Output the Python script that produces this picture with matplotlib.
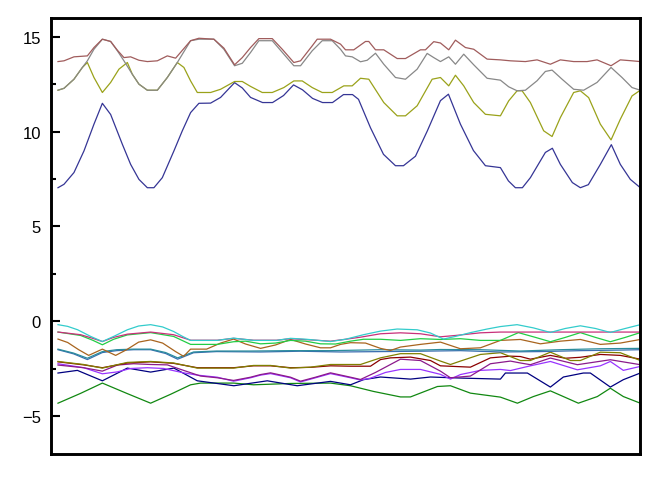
import numpy as np
import matplotlib
matplotlib.use("Agg")
import matplotlib.pyplot as plt
from matplotlib.ticker import MultipleLocator

# band energies; k is the path coordinate (arbitrary units)
blue_k = [57.3, 63.3, 73.3, 83.3, 93.3, 101.7, 110, 121.7, 130, 138.3, 146.7, 153.3, 161.7, 173.3, 181.7, 190, 198.3, 210, 220, 234,
          241.7, 250, 262, 272, 283, 293, 302, 312, 322, 332, 343, 352, 358, 370, 383, 395, 403, 415, 427, 440,
          448, 460, 473, 485, 500, 508, 515, 522, 530, 545, 552, 560, 572, 580, 588, 600, 611, 620, 630, 640]
blue_e = [7.04, 7.22, 7.84, 8.98, 10.39, 11.49, 10.9, 9.33, 8.27, 7.48, 7.04, 7.04, 7.57, 8.98, 10.04, 11.0, 11.49, 11.5, 11.8, 12.58,
          12.3, 11.8, 11.53, 11.53, 11.9, 12.46, 12.2, 11.75, 11.53, 11.53, 11.95, 11.95, 11.7, 10.2, 8.8, 8.2, 8.2, 8.7, 10.05, 11.63,
          11.97, 10.39, 9.0, 8.2, 8.1, 7.4, 7.04, 7.04, 7.57, 8.9, 9.12, 8.27, 7.31, 7.04, 7.2, 8.27, 9.31, 8.27, 7.48, 7.04]

olive_k = [57.3, 63.3, 73.3, 81.7, 86.7, 93.3, 101.7, 110, 118.3, 126.7, 131.7, 138.3, 146.7, 156.7, 166.7, 176.7, 183.3, 190, 196.7, 210,
           220, 234, 241.7, 250, 261.7, 271.7, 283.3, 293.3, 301.7, 311.7, 321.7, 331.7, 343.3, 351.7, 360, 368.3, 383.3, 396.7, 405, 416.7,
           431.7, 440, 448.3, 455, 463.3, 473.3, 485, 500, 508.3, 516.7, 521.7, 530, 543.3, 551.7, 560, 573.3, 580, 588.3, 600, 610.7,
           620, 631.7, 640]
olive_e = [12.18, 12.28, 12.76, 13.38, 13.64, 12.85, 12.06, 12.59, 13.29, 13.64, 13.02, 12.5, 12.18, 12.18, 12.85, 13.64, 13.38, 12.67, 12.06, 12.06,
           12.23, 12.64, 12.64, 12.38, 12.06, 12.06, 12.32, 12.67, 12.67, 12.32, 12.06, 12.06, 12.41, 12.41, 12.81, 12.76, 11.53, 10.83, 10.83, 11.36,
           12.76, 12.85, 12.41, 12.97, 12.41, 11.53, 10.91, 10.83, 11.62, 12.15, 12.15, 11.53, 10.04, 9.74, 10.74, 12.06, 12.15, 11.79, 10.39, 9.56,
           10.65, 11.88, 12.18]

gray_k = [57.3, 63.3, 73.3, 81.7, 86.7, 93.3, 101.7, 110, 116.7, 123.3, 131.7, 138.3, 146.7, 156.7, 166.7, 176.7, 190, 198.3, 213.3, 223.3,
          234, 241.7, 250, 258.3, 271.7, 283.3, 293.3, 300, 311.7, 321.7, 331.7, 340, 345, 351.7, 360, 366.7, 375, 383.3, 395, 405,
          416.7, 426.7, 433.3, 440, 448.3, 455, 463.3, 473.3, 486.7, 500, 508.3, 516.7, 525, 536.7, 545, 551.7, 561.7, 573.3, 583.3, 596.7,
          610.7, 621.7, 631.7, 640]
gray_e = [12.18, 12.28, 12.76, 13.38, 13.73, 14.34, 14.87, 14.75, 14.26, 13.73, 13.02, 12.5, 12.18, 12.18, 12.85, 13.64, 14.79, 14.87, 14.87, 14.34,
          13.47, 13.6, 14.17, 14.79, 14.79, 14.08, 13.47, 13.47, 14.26, 14.79, 14.79, 14.34, 13.99, 13.94, 13.68, 13.76, 14.13, 13.55, 12.85, 12.76,
          13.29, 14.12, 13.9, 13.69, 13.94, 13.55, 14.08, 13.52, 12.81, 12.71, 12.36, 12.15, 12.18, 12.68, 13.17, 13.24, 12.76, 12.23, 12.18, 12.59,
          13.38, 12.85, 12.32, 12.18]

brown_k = [57.3, 63.3, 73.3, 86.7, 93.3, 101.7, 110, 116.7, 123.3, 130, 138.3, 146.7, 156.7, 166.7, 175, 190, 198.3, 213.3, 223.3, 234,
           241.7, 250, 258.3, 271.7, 281.7, 293.3, 300, 311.7, 316.7, 330, 340, 345, 353.3, 365, 368.3, 375, 383.3, 396.7, 405, 420,
           425, 433.3, 440, 448.3, 455, 465, 473.3, 486.7, 500, 510, 525, 536.7, 550, 560, 573.3, 586.7, 596.7, 610.7, 620, 631.7, 640]
brown_e = [13.69, 13.73, 13.94, 13.99, 14.43, 14.87, 14.75, 14.29, 13.9, 13.94, 13.76, 13.69, 13.73, 13.99, 13.87, 14.79, 14.92, 14.87, 14.4, 13.52,
           13.9, 14.43, 14.9, 14.9, 14.34, 13.64, 13.73, 14.52, 14.87, 14.87, 14.61, 14.31, 14.31, 14.75, 14.75, 14.31, 14.31, 13.85, 13.85, 14.31,
           14.31, 14.74, 14.67, 14.31, 14.82, 14.43, 14.34, 13.82, 13.78, 13.73, 13.69, 13.78, 13.55, 13.78, 13.69, 13.69, 13.78, 13.47, 13.78, 13.73, 13.69]

cyan_k = [57.3, 67, 77, 90, 101.7, 113, 126.7, 138, 150, 162, 173, 182, 190, 216.7, 233, 253, 276, 290, 306, 330,
          345, 363, 380, 396.7, 416.7, 430, 443, 455, 470, 486.7, 500, 516.7, 533, 550, 565, 580, 595, 610, 625, 640]
cyan_e = [-0.18, -0.27, -0.45, -0.8, -1.07, -0.8, -0.45, -0.25, -0.18, -0.3, -0.54, -0.8, -1.01, -1.01, -0.89, -1.01, -1.01, -0.9, -0.95, -1.07,
          -0.95, -0.71, -0.52, -0.41, -0.45, -0.62, -0.94, -0.8, -0.6, -0.41, -0.28, -0.18, -0.35, -0.59, -0.38, -0.24, -0.38, -0.59, -0.38, -0.18]

crimson_k = [57.3, 80, 92, 101.7, 113, 126.7, 150, 173, 190, 216.7, 233, 253, 276, 290, 306, 330, 345, 360, 380, 400,
             420, 440, 455, 480, 500, 640]
crimson_e = [-0.57, -0.71, -0.9, -1.07, -0.85, -0.68, -0.57, -0.71, -1.0, -1.0, -0.9, -1.0, -1.0, -0.92, -0.97, -1.05, -0.95, -0.84, -0.66, -0.61,
             -0.66, -0.82, -0.75, -0.61, -0.57, -0.57]

green_k = [57.3, 80, 92, 101.7, 113, 126.7, 150, 173, 190, 216.7, 233, 245, 260, 275, 290, 305, 320, 335, 350, 363,
           380, 400, 420, 440, 460, 480, 500, 518, 535, 550, 565, 580, 595, 610, 625, 640]
green_e = [-0.57, -0.75, -1.0, -1.24, -0.95, -0.72, -0.6, -0.8, -1.22, -1.22, -1.08, -1.05, -1.19, -1.15, -1.01, -1.05, -1.19, -1.2, -1.05, -0.95,
           -0.95, -1.01, -0.92, -0.96, -0.92, -1.01, -1.01, -0.6, -0.85, -1.08, -0.85, -0.6, -0.85, -1.08, -0.85, -0.6]

orange_k = [57.3, 67, 78, 88, 101.7, 115, 126, 138, 150, 162, 175, 183, 190, 206, 220, 233, 245, 260, 275, 290,
            305, 320, 330, 340, 350, 365, 380, 390, 400, 420, 440, 460, 480, 500, 520, 540, 560, 580, 600, 620, 640]
orange_e = [-0.94, -1.12, -1.5, -1.8, -1.47, -1.8, -1.5, -1.1, -0.98, -1.15, -1.6, -1.85, -1.47, -1.47, -1.15, -0.94, -1.2, -1.43, -1.25, -0.96,
            -1.2, -1.4, -1.4, -1.22, -1.13, -1.15, -1.43, -1.54, -1.36, -1.22, -1.1, -1.45, -1.40, -1.01, -0.96, -1.19, -1.05, -0.96, -1.22, -1.15, -0.96]

teal_k = [57.3, 73, 86.7, 101.7, 116, 133, 150, 165, 177, 193, 216, 250, 290, 330, 380, 420, 440, 480, 520, 560, 600, 640]
teal_e = [-1.47, -1.68, -1.95, -1.6, -1.5, -1.47, -1.47, -1.65, -1.93, -1.62, -1.57, -1.57, -1.55, -1.55, -1.5, -1.52, -1.49, -1.5, -1.57, -1.5,
          -1.45, -1.43]

steel_k = [57.3, 73, 86.7, 101.7, 116, 133, 150, 165, 177, 193, 216, 260, 300, 340, 380, 420, 460, 500, 540, 580, 620, 640]
steel_e = [-1.5, -1.72, -2.02, -1.65, -1.55, -1.5, -1.5, -1.7, -2.0, -1.66, -1.6, -1.62, -1.58, -1.62, -1.6, -1.58, -1.55, -1.62, -1.6, -1.55,
           -1.52, -1.5]

olive2_k = [57.3, 83, 101.7, 126.7, 150, 173, 196.7, 233, 253, 270, 290, 310, 330, 350, 360, 380, 400, 420, 440, 450,
            460, 480, 500, 520, 530, 550, 570, 580, 600, 620, 640]
olive2_e = [-2.12, -2.28, -2.47, -2.17, -2.12, -2.2, -2.47, -2.47, -2.33, -2.33, -2.47, -2.42, -2.28, -2.28, -2.28, -1.93, -1.71, -1.71, -2.1, -2.28,
            -2.1, -1.75, -1.66, -2.07, -2.07, -1.63, -2.07, -2.07, -1.63, -1.66, -2.07]

darkred_k = [57.3, 83, 101.7, 126.7, 150, 173, 196.7, 233, 253, 270, 290, 310, 330, 350, 370, 380, 390, 410, 430, 440,
             470, 490, 510, 520, 530, 550, 565, 580, 600, 620, 640]
darkred_e = [-2.14, -2.3, -2.45, -2.2, -2.14, -2.22, -2.45, -2.45, -2.35, -2.35, -2.45, -2.43, -2.35, -2.37, -2.37, -2.02, -1.93, -1.89, -2.07, -2.35,
             -2.42, -1.93, -1.84, -1.86, -2.0, -1.8, -1.95, -1.9, -1.75, -1.8, -2.0]

purple_k = [57.3, 83, 101.7, 116.7, 133, 150, 166.7, 183, 200, 216.7, 233, 250, 260, 270, 290, 300, 315, 330, 350, 360,
            375, 390, 400, 420, 440, 450, 470, 490, 510, 520, 530, 550, 577, 610, 640]
purple_e = [-2.31, -2.45, -2.63, -2.31, -2.24, -2.28, -2.3, -2.59, -2.89, -2.98, -3.12, -2.95, -2.81, -2.72, -2.95, -3.16, -2.95, -2.72, -2.95, -3.07,
            -2.7, -2.28, -2.0, -2.07, -2.63, -2.98, -2.89, -2.24, -2.1, -2.2, -2.29, -1.94, -2.29, -2.03, -2.29]

violet_k = [57.3, 83, 101.7, 116.7, 130, 146.7, 163, 183, 196.7, 216.7, 233, 250, 260, 270, 290, 300, 315, 330, 350, 360,
            370, 385, 400, 420, 440, 450, 460, 480, 500, 510, 530, 550, 577, 600, 610, 623, 640]
violet_e = [-2.24, -2.45, -2.77, -2.67, -2.49, -2.45, -2.49, -2.72, -2.84, -2.95, -3.16, -2.98, -2.84, -2.76, -2.98, -3.2, -2.98, -2.76, -2.98, -3.1,
            -3.0, -2.7, -2.54, -2.54, -2.8, -3.05, -2.81, -2.59, -2.54, -2.6, -2.35, -2.12, -2.56, -2.35, -2.12, -2.59, -2.38]

navy_k = [57.3, 76.7, 101.7, 126.7, 150, 173.3, 196.7, 233.3, 266.7, 296.7, 330, 350, 363, 380, 410, 430, 463, 500, 505, 527,
          550, 563, 583, 590, 610, 623, 640]
navy_e = [-2.73, -2.59, -3.14, -2.47, -2.68, -2.47, -3.14, -3.40, -3.14, -3.40, -3.17, -3.35, -3.08, -2.94, -3.05, -2.94, -3.0, -3.05, -2.73, -2.73,
          -3.47, -2.94, -2.73, -2.73, -3.47, -3.08, -2.73]

dgreen_k = [57.3, 80, 101.7, 126, 150, 170, 190, 200, 233, 253, 290, 330, 350, 373, 400, 410, 437, 450, 470, 500,
            517, 533, 550, 563, 578, 597, 610, 623, 640]
dgreen_e = [-4.32, -3.8, -3.26, -3.8, -4.32, -3.85, -3.35, -3.26, -3.26, -3.35, -3.28, -3.26, -3.40, -3.7, -3.99, -3.99, -3.44, -3.4, -3.79, -4.0,
            -4.32, -3.97, -3.67, -3.97, -4.32, -3.97, -3.53, -3.97, -4.32]

bands = [
    (dgreen_k, dgreen_e, "#118811"),
    (navy_k, navy_e, "#000080"),
    (violet_k, violet_e, "#9933ff"),
    (purple_k, purple_e, "#8b1a8b"),
    (darkred_k, darkred_e, "#8b0000"),
    (olive2_k, olive2_e, "#808000"),
    (steel_k, steel_e, "#3a6eb0"),
    (teal_k, teal_e, "#2a8c9c"),
    (orange_k, orange_e, "#a8641e"),
    (green_k, green_e, "#22cc44"),
    (crimson_k, crimson_e, "#c8307a"),
    (cyan_k, cyan_e, "#33cccc"),
    (blue_k, blue_e, "#353595"),
    (olive_k, olive_e, "#9aa21a"),
    (gray_k, gray_e, "#888888"),
    (brown_k, brown_e, "#a05c5c"),
]

plt.rcParams['font.family'] = ['Liberation Sans', 'DejaVu Sans']

fig = plt.figure(figsize=(6.67, 4.81), dpi=100)
ax = fig.add_axes([0.076, 0.054, 0.884, 0.907])

for k, e, c in bands:
    ax.plot(k, e, color=c, lw=0.9)

ax.set_xlim(50, 640)
ax.set_ylim(-7, 16)
ax.yaxis.set_major_locator(MultipleLocator(5))
ax.yaxis.set_minor_locator(MultipleLocator(2.5))
ax.set_xticks([])
ax.tick_params(axis='y', which='major', direction='in', length=6.5, width=1.5, labelsize=12, pad=7)
ax.tick_params(axis='y', which='minor', direction='in', length=3.5, width=1.5)
for s in ax.spines.values():
    s.set_linewidth(2.1)

fig.savefig("out.png", dpi=100)
